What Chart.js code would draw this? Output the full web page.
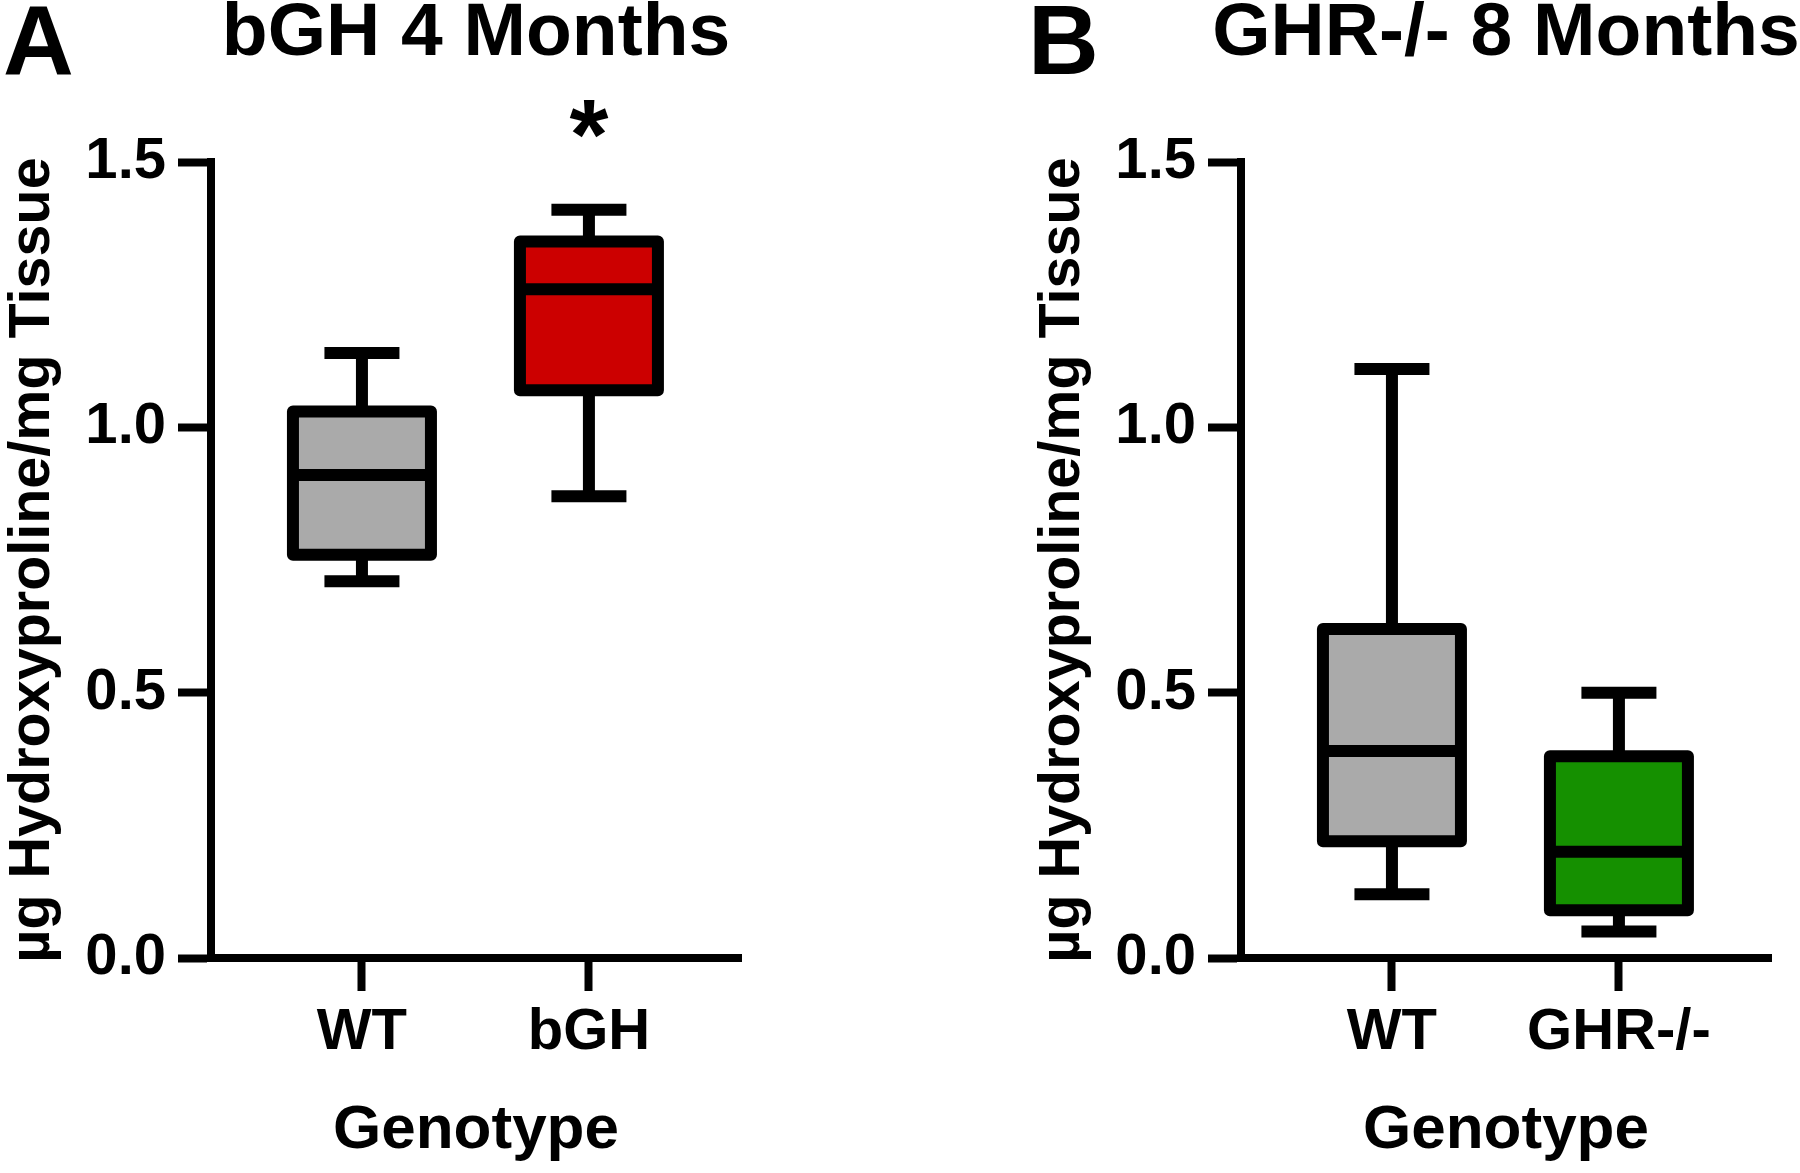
<!DOCTYPE html>
<html lang="en">
  <head>
    <meta charset="UTF-8" />
    <title>Hydroxyproline box plots</title>
    <script src="https://cdn.jsdelivr.net/npm/chart.js"></script>
    <style>
      html,
      body {
        margin: 0;
        padding: 0;
        background: #fff;
        overflow: hidden;
      }
      .figure {
        position: relative;
        width: 1800px;
        height: 1173px;
        overflow: hidden;
      }
      .panel {
        position: absolute;
        top: 0;
      }
      .letter {
        position: absolute;
        top: -9px;
        font: bold 98px "Liberation Sans", Arial, sans-serif;
        line-height: 1;
        color: #000;
      }
    </style>
  </head>
  <body>
    <div class="figure">
      <canvas id="panelA" class="panel" style="left: 0px" width="952" height="1173"></canvas>
      <canvas id="panelB" class="panel" style="left: 1030px" width="952" height="1173"></canvas>
      <div class="letter" style="left: 3px">A</div>
      <div class="letter" style="left: 1028px">B</div>
    </div>

    <script>
      // panel A - bGH 4 months
      const categoriesA = ["WT", "bGH"];
      const minA = [0.71, 0.87];
      const q1A = [0.76, 1.07];
      const medianA = [0.91, 1.26];
      const q3A = [1.03, 1.35];
      const maxA = [1.14, 1.41];
      const starsA = ["", "*"];

      // panel B - GHR-/- 8 months
      const categoriesB = ["WT", "GHR-/-"];
      const minB = [0.12, 0.05];
      const q1B = [0.22, 0.09];
      const medianB = [0.39, 0.2];
      const q3B = [0.62, 0.38];
      const maxB = [1.11, 0.5];
      const starsB = ["", ""];

      const yTicks = [0, 0.5, 1.0, 1.5];

      Chart.defaults.font.family = '"Liberation Sans", Arial, sans-serif';
      Chart.defaults.font.weight = "bold";
      Chart.defaults.color = "#000";

      // whiskers, caps, median and box outline drawn on top of the floating bars
      function boxLayer(mins, q1s, meds, q3s, maxs, stars) {
        return {
          id: "boxLayer",
          afterDatasetsDraw(chart) {
            const { ctx } = chart;
            const y = chart.scales.y;
            const bars = chart.getDatasetMeta(0).data;
            const capHalf = 37.5;
            ctx.save();
            ctx.strokeStyle = "#000";
            ctx.lineWidth = 12;
            ctx.lineJoin = "round";
            ctx.lineCap = "butt";
            bars.forEach(function (bar, i) {
              const cx = bar.x;
              const half = bar.width / 2;
              const yMin = y.getPixelForValue(mins[i]);
              const yQ1 = y.getPixelForValue(q1s[i]);
              const yMed = y.getPixelForValue(meds[i]);
              const yQ3 = y.getPixelForValue(q3s[i]);
              const yMax = y.getPixelForValue(maxs[i]);

              ctx.beginPath();
              ctx.moveTo(cx, yQ3);
              ctx.lineTo(cx, yMax);
              ctx.moveTo(cx - capHalf, yMax);
              ctx.lineTo(cx + capHalf, yMax);
              ctx.moveTo(cx, yQ1);
              ctx.lineTo(cx, yMin);
              ctx.moveTo(cx - capHalf, yMin);
              ctx.lineTo(cx + capHalf, yMin);
              ctx.stroke();

              ctx.strokeRect(cx - half, yQ3, half * 2, yQ1 - yQ3);

              ctx.beginPath();
              ctx.moveTo(cx - half, yMed);
              ctx.lineTo(cx + half, yMed);
              ctx.stroke();

              if (stars[i]) {
                ctx.fillStyle = "#000";
                ctx.font = 'bold 100px "Liberation Sans", Arial, sans-serif';
                ctx.textAlign = "center";
                ctx.textBaseline = "alphabetic";
                ctx.fillText(stars[i], cx, chart.chartArea.top + 7);
              }
            });
            ctx.restore();
          },
        };
      }

      function axisLines() {
        return {
          drawOnChartArea: false,
          drawTicks: true,
          tickLength: 33,
          tickWidth: 8,
          tickColor: "#000",
          offset: false,
        };
      }

      function makePanel(id, title, cats, mins, q1s, meds, q3s, maxs, fills, stars) {
        return new Chart(document.getElementById(id), {
          type: "bar",
          data: {
            datasets: [
              {
                data: cats.map(function (c, i) {
                  return { x: i, y: [q1s[i], q3s[i]] };
                }),
                backgroundColor: fills,
                borderWidth: 0,
                barThickness: 138,
              },
            ],
          },
          options: {
            responsive: false,
            animation: false,
            layout: { padding: 0 },
            plugins: {
              legend: { display: false },
              tooltip: { enabled: false },
              title: {
                display: true,
                text: title,
                color: "#000",
                font: { size: 75, weight: "bold", lineHeight: 0.9 },
                padding: { top: 1, bottom: 93.5 },
              },
            },
            scales: {
              x: {
                type: "linear",
                min: -0.665,
                max: 1.67,
                offset: false,
                afterBuildTicks: function (s) {
                  s.ticks = cats.map(function (c, i) {
                    return { value: i };
                  });
                },
                afterFit: function (s) {
                  s.height = 215;
                },
                ticks: {
                  callback: function (v) {
                    return cats[v];
                  },
                  font: { size: 58, weight: "bold" },
                  color: "#000",
                  padding: 7,
                  maxRotation: 0,
                  autoSkip: false,
                },
                grid: axisLines(),
                border: { display: true, color: "#000", width: 8 },
                title: {
                  display: true,
                  text: "Genotype",
                  color: "#000",
                  font: { size: 62, weight: "bold" },
                  padding: { top: 0, bottom: 5 },
                },
              },
              y: {
                min: 0,
                max: 1.5,
                afterBuildTicks: function (s) {
                  s.ticks = yTicks.map(function (v) {
                    return { value: v };
                  });
                },
                afterFit: function (s) {
                  s.width = 211;
                },
                ticks: {
                  callback: function (v) {
                    return v.toFixed(1);
                  },
                  font: { size: 58, weight: "bold" },
                  color: "#000",
                  padding: 12,
                },
                grid: axisLines(),
                border: { display: true, color: "#000", width: 8 },
                title: {
                  display: true,
                  text: "µg Hydroxyproline/mg Tissue",
                  color: "#000",
                  font: { size: 57.5, weight: "bold", lineHeight: 1 },
                  padding: { top: 4 },
                },
              },
              // empty right-hand box so the title stays centred on the whole panel
              spacer: {
                position: "right",
                grid: { display: false, drawTicks: false },
                border: { display: false },
                ticks: { display: false },
                afterFit: function (s) {
                  s.width = 211;
                },
              },
            },
          },
          plugins: [boxLayer(mins, q1s, meds, q3s, maxs, stars)],
        });
      }

      makePanel("panelA", "bGH 4 Months", categoriesA, minA, q1A, medianA, q3A, maxA,
        ["#aaaaaa", "#cc0000"], starsA);
      makePanel("panelB", "GHR-/- 8 Months", categoriesB, minB, q1B, medianB, q3B, maxB,
        ["#aaaaaa", "#159000"], starsB);
    </script>
  </body>
</html>
